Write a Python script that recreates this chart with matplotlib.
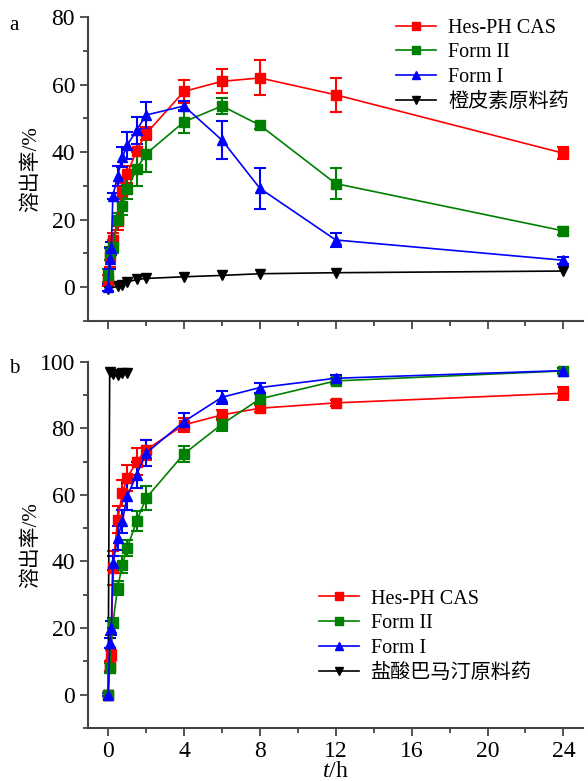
import matplotlib
matplotlib.use("Agg")
import matplotlib.pyplot as plt
from matplotlib.ticker import MultipleLocator
from matplotlib.lines import Line2D

plt.rcParams['font.family'] = ['Liberation Serif', 'Noto Sans CJK SC']
plt.rcParams['font.size'] = 14
plt.rcParams['mathtext.fontset'] = 'custom'
plt.rcParams['mathtext.it'] = 'Liberation Serif:italic'
plt.rcParams['mathtext.rm'] = 'Liberation Serif'

# 数据 (a) 橙皮素
t_a = [0, 0.083, 0.25, 0.5, 0.75, 1, 1.5, 2, 4, 6, 8, 12, 24]
t_a_blue = [0, 0.083, 0.167, 0.25, 0.5, 0.75, 1, 1.5, 2, 4, 6, 8, 12, 24]
t_a_black = [0, 0.5, 0.75, 1, 1.5, 2, 4, 6, 8, 12, 24]
a_cas = [2, 9, 14, 19.5, 28.5, 33.5, 40.5, 45.5, 58, 61, 62, 57, 39.7]
a_cas_err = [1.5, 3, 2, 2.5, 2.5, 2.5, 4.5, 2, 3.4, 3.6, 5.2, 5, 1.8]
a_f2 = [3.5, 10, 12, 20, 24, 29, 35, 39.5, 49, 53.7, 48, 30.7, 16.7]
a_f2_err = [2, 2, 2, 2, 2.5, 3, 5, 5.5, 3.4, 2.4, 1, 4.6, 1.2]
a_f1 = [0, 8.5, 11.5, 27, 33, 38.5, 42, 46.5, 51, 53.7, 43.6, 29.3, 14, 8]
a_f1_err = [1, 3, 2, 1, 3, 3, 4, 4, 4, 1.5, 5.6, 6, 2, 1]
a_raw = [-0.5, 0.3, 0.8, 1.5, 2.3, 2.6, 3.1, 3.5, 4, 4.3, 4.8]

# 数据 (b) 盐酸巴马汀
t_b = [0, 0.083, 0.167, 0.25, 0.5, 0.75, 1, 1.5, 2, 4, 6, 8, 12, 24]
t_b_f2 = [0, 0.083, 0.25, 0.5, 0.75, 1, 1.5, 2, 4, 6, 8, 12, 24]
t_b_black = [0, 0.083, 0.25, 0.5, 0.75, 1]
b_cas = [0, 8.5, 12, 38, 52.5, 60.5, 65, 70, 73.5, 81, 84, 86, 87.6, 90.5]
b_cas_err = [0.5, 1.5, 1.5, 5, 4, 4, 4, 4, 3, 2, 1.5, 1, 1, 2]
b_f2 = [0, 8, 21.5, 32, 39, 44, 52, 59, 72.3, 81.2, 88.8, 94.2, 97.2]
b_f2_err = [0.5, 1.5, 1.5, 2, 2.5, 2.5, 3, 3.5, 2.5, 2, 1.5, 1, 0.8]
b_f1 = [0, 15.5, 20, 39.5, 47, 52, 59.5, 66, 72.5, 82, 89.3, 92.2, 95, 97.3]
b_f1_err = [0.5, 1.5, 2, 2, 3.5, 3.5, 4, 4, 4, 2.5, 2, 1.5, 1, 0.8]
b_raw = [0, 97, 96.3, 96, 96.5, 96.5]

labels_a = ['Hes-PH CAS', 'Form II', 'Form I', '橙皮素原料药']
labels_b = ['Hes-PH CAS', 'Form II', 'Form I', '盐酸巴马汀原料药']
colors = ['red', 'green', 'blue', 'black']
markers = ['s', 's', '^', 'v']

fig = plt.figure(figsize=(5.88, 7.81), dpi=100)
ax1 = fig.add_axes([0.150, 0.589, 0.842, 0.389])
ax2 = fig.add_axes([0.150, 0.068, 0.842, 0.469])

def series(ax, t, y, err, color, marker):
    ax.errorbar(t, y, yerr=err, color=color, marker=marker, markersize=6.5,
                lw=1.2, elinewidth=1.5, capsize=4, capthick=1.5)

series(ax1, t_a, a_cas, a_cas_err, 'red', 's')
series(ax1, t_a, a_f2, a_f2_err, 'green', 's')
series(ax1, t_a_blue, a_f1, a_f1_err, 'blue', '^')
ax1.plot(t_a_black, a_raw, color='black', marker='v', markersize=7, lw=1.2)

series(ax2, t_b, b_cas, b_cas_err, 'red', 's')
series(ax2, t_b_f2, b_f2, b_f2_err, 'green', 's')
series(ax2, t_b, b_f1, b_f1_err, 'blue', '^')
ax2.plot(t_b_black, b_raw, color='black', marker='v', markersize=7, lw=1.2)

def handles():
    return [Line2D([], [], color=c, marker=m, markersize=6, lw=1.2) for c, m in zip(colors, markers)]

for ax in (ax1, ax2):
    ax.set_xlim(-1.05, 25.05)
    ax.spines['top'].set_visible(False)
    ax.spines['right'].set_visible(False)
    for s in ('left', 'bottom'):
        ax.spines[s].set_color('#444444')
        ax.spines[s].set_linewidth(1.5)
    ax.xaxis.set_major_locator(MultipleLocator(4))
    ax.xaxis.set_minor_locator(MultipleLocator(2))
    ax.yaxis.set_major_locator(MultipleLocator(20))
    ax.yaxis.set_minor_locator(MultipleLocator(10))
    ax.tick_params(which='major', direction='out', length=6, width=1.3, color='#444444', labelsize=17)
    ax.tick_params(which='minor', direction='out', length=3.5, width=1.3, color='#444444')
    ax.set_ylabel('溶出率/%', fontsize=15)
    ax.yaxis.set_label_coords(-0.095, 0.5)

leg_kw = dict(frameon=False, fontsize=14.5, handlelength=2.0, handletextpad=0.6,
              labelspacing=0.28, borderaxespad=0.0, loc='upper left')

ax1.set_ylim(-10, 80)
ax1.tick_params(axis='x', labelbottom=False)
ax1.legend(handles(), labels_a, bbox_to_anchor=(0.605, 1.022), **leg_kw)

ax2.set_ylim(-10, 100)
ax2.set_xlabel('$t$/h', fontsize=17, labelpad=-1)
ax2.legend(handles(), labels_b, bbox_to_anchor=(0.449, 0.40), **leg_kw)

fig.text(0.015, 0.962, 'a', fontsize=15)
fig.text(0.015, 0.523, 'b', fontsize=15)

fig.savefig('out.png', dpi=100)
